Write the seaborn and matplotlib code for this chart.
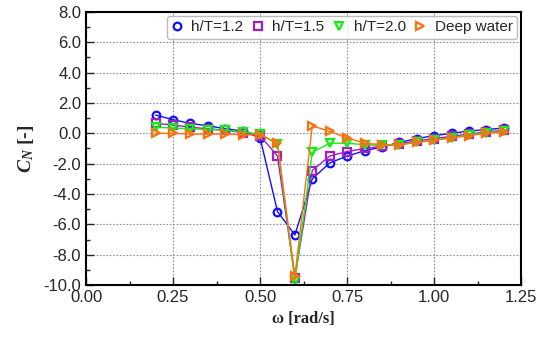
import matplotlib
matplotlib.use("Agg")
import matplotlib.pyplot as plt
import seaborn as sns
import pandas as pd
from matplotlib.ticker import MultipleLocator, FormatStrFormatter

omega = [0.20, 0.25, 0.30, 0.35, 0.40, 0.45, 0.50, 0.55, 0.60, 0.65, 0.70,
         0.75, 0.80, 0.85, 0.90, 0.95, 1.00, 1.05, 1.10, 1.15, 1.20]
ht12 = [1.2, 0.9, 0.65, 0.5, 0.3, 0.15, -0.3, -5.15, -6.7, -3.0, -1.95,
        -1.5, -1.15, -0.9, -0.6, -0.35, -0.15, 0.0, 0.15, 0.25, 0.35]
ht15 = [0.65, 0.55, 0.4, 0.3, 0.2, 0.05, -0.15, -1.5, -9.5, -2.45, -1.5,
        -1.2, -1.0, -0.85, -0.7, -0.5, -0.35, -0.2, -0.05, 0.1, 0.2]
ht20 = [0.4, 0.35, 0.3, 0.25, 0.2, 0.1, -0.05, -0.7, -9.7, -1.25, -0.65,
        -0.65, -0.75, -0.8, -0.75, -0.6, -0.45, -0.3, -0.1, 0.05, 0.15]
deep = [0.0, 0.0, -0.05, -0.05, -0.05, -0.1, -0.1, -0.65, -9.4, 0.5, 0.12,
        -0.3, -0.65, -0.75, -0.75, -0.6, -0.45, -0.3, -0.15, 0.0, 0.1]
labels = ["h/T=1.2", "h/T=1.5", "h/T=2.0", "Deep water"]

series = [ht12, ht15, ht20, deep]
colors = ["#1010ff", "#a020c0", "#10f010", "#ff7010"]
markers = ["o", "s", "v", ">"]

sns.set_style("ticks")
plt.rcParams["axes.unicode_minus"] = False
plt.rcParams["font.family"] = ["Liberation Sans", "DejaVu Sans"]
plt.rcParams["mathtext.fontset"] = "custom"
plt.rcParams["mathtext.bfit"] = "Liberation Serif:italic:bold"
plt.rcParams["mathtext.it"] = "Liberation Serif:italic:bold"
plt.rcParams["mathtext.rm"] = "Liberation Serif:bold"

fig = plt.figure(figsize=(5.48, 3.49), dpi=100)
ax = fig.add_axes([0.157, 0.183, 0.794, 0.783])

for vals, lab, c, m in zip(series, labels, colors, markers):
    df = pd.DataFrame({"omega": omega, "CN": vals})
    sns.lineplot(data=df, x="omega", y="CN", ax=ax, color=c, marker=m,
                 markersize=5.5, markerfacecolor="none", markeredgecolor=c,
                 markeredgewidth=1.6, linewidth=1.0, label=lab)

ax.set_xlim(0, 1.25)
ax.set_ylim(-10, 8)
ax.xaxis.set_major_locator(MultipleLocator(0.25))
ax.xaxis.set_minor_locator(MultipleLocator(0.125))
ax.yaxis.set_major_locator(MultipleLocator(2))
ax.yaxis.set_minor_locator(MultipleLocator(1))
ax.xaxis.set_major_formatter(FormatStrFormatter("%.2f"))
ax.yaxis.set_major_formatter(FormatStrFormatter("%.1f"))
ax.tick_params(which="both", direction="in", labelsize=12, width=1)
ax.tick_params(which="major", length=6)
ax.tick_params(which="minor", length=3)
ax.grid(True, which="major", color="#909090", linestyle=(0, (1.5, 1.5)), linewidth=0.8)
for s in ax.spines.values():
    s.set_linewidth(1.5)
    s.set_color("black")

ax.set_xlabel("ω [rad/s]", family=["Liberation Serif", "DejaVu Serif"],
              fontweight="bold", fontsize=12)
ax.set_ylabel(r"$\mathbfit{C}_{\mathbfit{N}}$ [-]", family=["Liberation Serif", "DejaVu Serif"],
              fontweight="bold", fontsize=14, labelpad=5)

leg = ax.legend(loc="upper right", ncol=4, fontsize=11, frameon=True,
                handlelength=0.7, handletextpad=0.6, columnspacing=0.6,
                borderpad=0.3, borderaxespad=0.25, fancybox=True)
for line in leg.get_lines():
    line.set_linestyle("none")
leg.get_frame().set_edgecolor("#aaaaaa")
leg.get_frame().set_linewidth(1.0)

fig.savefig("out.png", dpi=100)
